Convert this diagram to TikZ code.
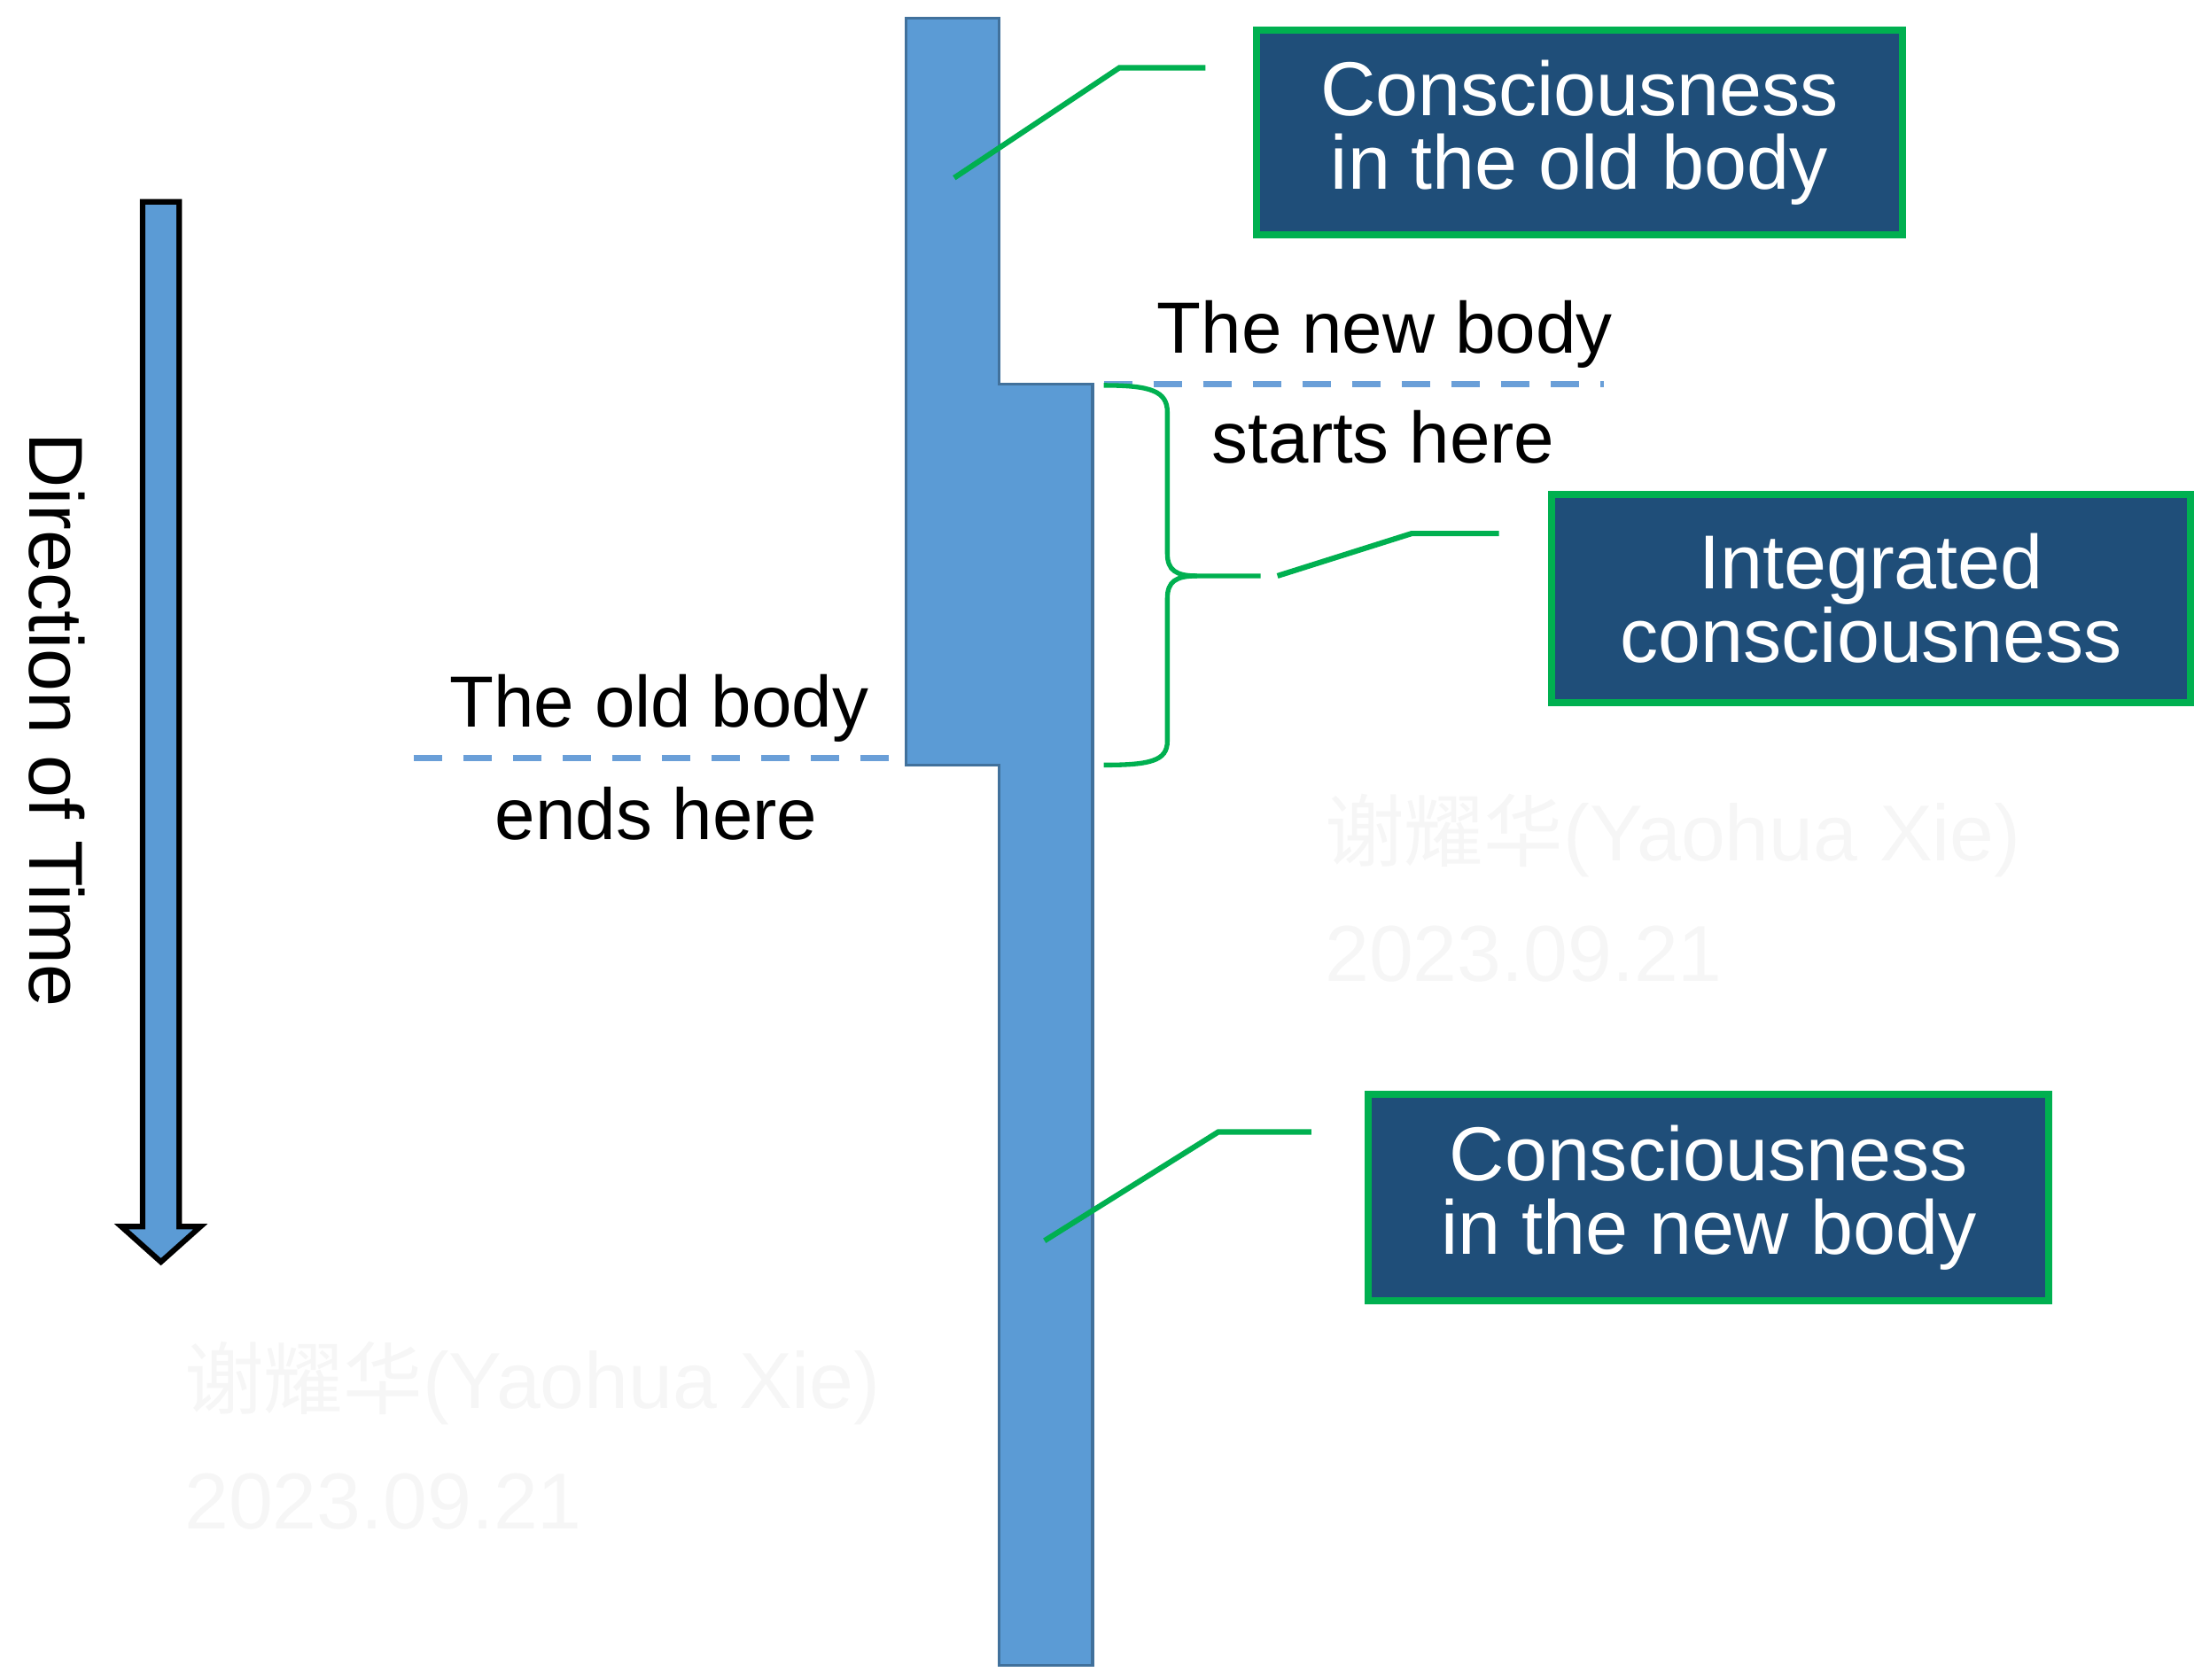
\documentclass[tikz,border=0pt]{standalone}
\usepackage{fontspec}
\setmainfont{Liberation Sans}
\newfontfamily\cjkfont{Noto Sans CJK SC}
\definecolor{barblue}{HTML}{5B9BD5}
\definecolor{baredge}{HTML}{41719C}
\definecolor{dashblue}{HTML}{6A9FD8}
\definecolor{navy}{HTML}{1F4E79}
\definecolor{ogreen}{HTML}{00B050}
\definecolor{wmgray}{HTML}{F6F6F6}
\begin{document}
\begin{tikzpicture}[x=0.01cm,y=-0.01cm,
  box/.style={draw=ogreen, fill=navy, line width=1.4pt, text=white, align=center,
    font=\fontsize{15.4}{14.8}\selectfont, inner sep=0pt},
  lbl/.style={anchor=base, font=\fontsize{14.6}{16}\selectfont, inner sep=0pt},
  lead/.style={draw=ogreen, line width=1.1pt},
  bracepath/.style={draw=ogreen, line width=0.95pt},
  dashline/.style={draw=dashblue, line width=1.3pt, dash pattern=on 5.7pt off 4.3pt},
  wm/.style={anchor=base west, text=wmgray, font=\fontsize{16}{16}\selectfont, inner sep=0pt}]
\useasboundingbox (0,0) rectangle (1560,1190);

% watermarks
\node[wm] (wm1) at (938,610) {{\cjkfont 谢耀华}(Yaohua Xie)};
\node[wm] (wm1d) at (938,695) {2023.09.21};
\node[wm] (wm2) at (130,998) {{\cjkfont 谢耀华}(Yaohua Xie)};
\node[wm] (wm2d) at (130,1083) {2023.09.21};

% time arrow
\draw[fill=barblue, draw=black, line width=1.1pt]
  (101,143) -- (127,143) -- (127,869) -- (142,869) -- (114,894) -- (86,869) -- (101,869) -- cycle;
\node[rotate=-90, anchor=base, font=\fontsize{15.4}{16}\selectfont, inner sep=0pt] (dir) at (21,510) {Direction of Time};

% consciousness bar
\draw[fill=barblue, draw=baredge, line width=0.6pt]
  (642,13) -- (708,13) -- (708,272) -- (774,272) -- (774,1180) -- (708,1180) -- (708,542) -- (642,542) -- cycle;

% dashed markers
\coordinate (d1s) at (782,272); \coordinate (d1e) at (1136,272);
\coordinate (d2s) at (293,537); \coordinate (d2e) at (630,537);
\draw[dashline] (d1s) -- (d1e);
\draw[dashline] (d2s) -- (d2e);

% labels
\node[lbl] (newtop) at (981,250) {The new body};
\node[lbl] (newbot) at (980,328) {starts here};
\node[lbl] (oldtop) at (467,515) {The old body};
\node[lbl] (oldbot) at (465,595) {ends here};

% boxes
\node[box, minimum width=4.57cm, minimum height=1.45cm] (b1) at (1119,94) {Consciousness\\in the old body};
\node[box, minimum width=4.52cm, minimum height=1.47cm] (b2) at (1325.5,424) {Integrated\\consciousness};
\node[box, minimum width=4.82cm, minimum height=1.46cm] (b3) at (1210.5,848.5) {Consciousness\\in the new body};

% brace
\coordinate (brtip) at (893,408);
\draw[bracepath] (782,273) .. controls (815,273) and (827,277) .. (827,292) -- (827,392)
  .. controls (827,404) and (833,408) .. (848,408) -- (brtip);
\draw[bracepath] (848,408) .. controls (833,408) and (827,412) .. (827,424) -- (827,525)
  .. controls (827,539) and (815,542) .. (782,542);

% leaders
\coordinate (l1s) at (676,126); \coordinate (l1k) at (793,48); \coordinate (l1e) at (854,48);
\draw[lead] (l1s) -- (l1k) -- (l1e);
\coordinate (l2s) at (905,408); \coordinate (l2k) at (1000,378); \coordinate (l2e) at (1062,378);
\draw[lead] (l2s) -- (l2k) -- (l2e);
\coordinate (l3s) at (740,879); \coordinate (l3k) at (863,802); \coordinate (l3e) at (929,802);
\draw[lead] (l3s) -- (l3k) -- (l3e);
\end{tikzpicture}
\end{document}
